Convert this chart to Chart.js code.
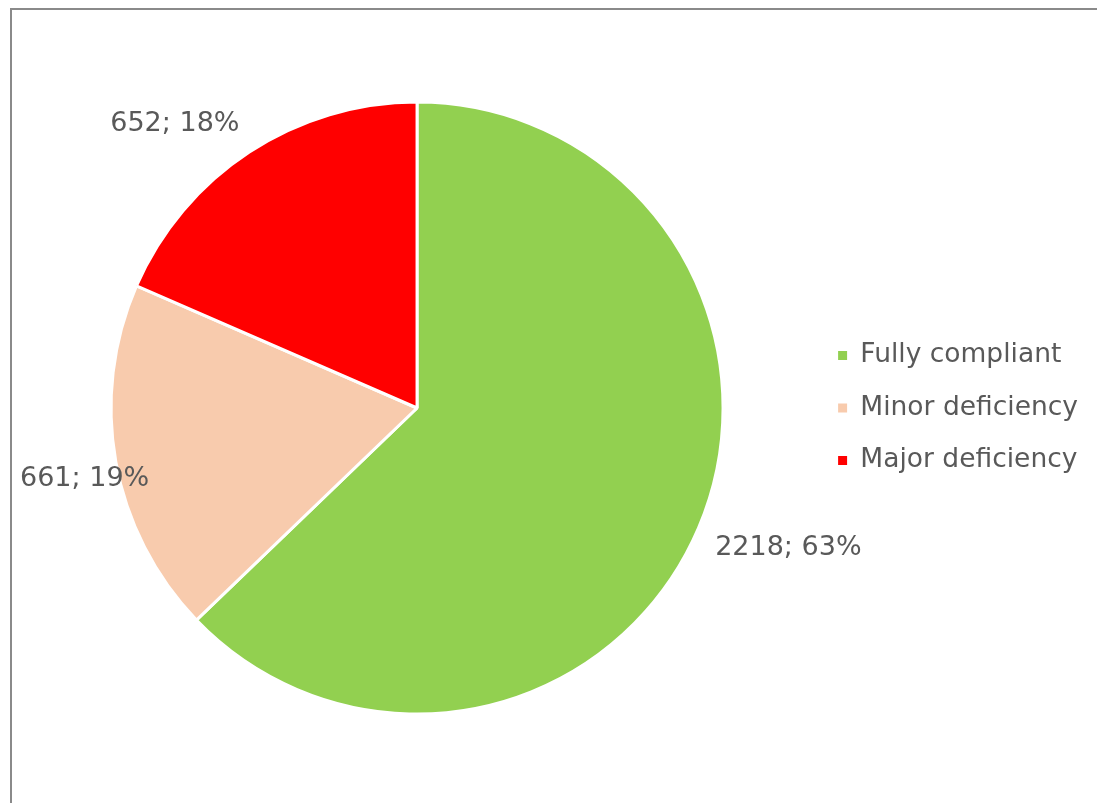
<!DOCTYPE html>
<html>
<head>
<meta charset="utf-8">
<script src="https://cdn.jsdelivr.net/npm/chart.js@4/dist/chart.umd.min.js"></script>
<style>
  html, body { margin: 0; padding: 0; background: #fff; overflow: hidden; }
  #wrap { position: relative; width: 1097px; height: 803px; }
  #frame { position: absolute; left: 10px; top: 8px; width: 1100px; height: 810px;
           border-left: 2px solid #8a8a8a; border-top: 2px solid #8a8a8a; pointer-events: none; }
  canvas { position: absolute; left: 0; top: 0; }
</style>
</head>
<body>
<div id="wrap">
  <canvas id="my_chart" width="1097" height="803"></canvas>
  <div id="frame"></div>
</div>
<script>
  'use strict';

  // categories and values
  var categories = ['Fully compliant', 'Minor deficiency', 'Major deficiency'];
  var counts     = [2218, 661, 652];
  var colors     = ['#92D050', '#F8CBAD', '#FF0000'];

  var fontFamily = '"DejaVu Sans", Verdana, sans-serif';
  var textColor  = '#595959';

  // labels like "2218; 63%" outside the slices (corner of the text box next to the arc)
  var outsideLabels = {
    id: 'outsideLabels',
    afterDatasetsDraw: function(chart) {
      var ctx = chart.ctx;
      var meta = chart.getDatasetMeta(0);
      var data = chart.data.datasets[0].data;
      var total = data.reduce(function(a, b) { return a + b; }, 0);
      ctx.save();
      ctx.font = '27px ' + fontFamily;
      ctx.fillStyle = textColor;
      ctx.textAlign = 'center';
      ctx.textBaseline = 'middle';
      meta.data.forEach(function(arc, i) {
        var p = arc.getProps(['x', 'y', 'startAngle', 'endAngle', 'outerRadius'], true);
        var mid = (p.startAngle + p.endAngle) / 2;
        var cx = Math.cos(mid), cy = Math.sin(mid);
        var text = data[i] + '; ' + Math.round(data[i] / total * 100) + '%';
        var w = ctx.measureText(text).width, h = 27;
        var dist = p.outerRadius + 18;
        var x = p.x + cx * dist + Math.sign(cx) * w / 2;
        var y = p.y + cy * dist + Math.sign(cy) * h / 2;
        // keep inside the chart frame
        if (x - w / 2 < 20) x = 20 + w / 2;
        if (x + w / 2 > chart.width - 10) x = chart.width - 10 - w / 2;
        ctx.fillText(text, x, y);
      });
      ctx.restore();
    }
  };

  var config = {
    type: 'pie',
    data: {
      labels: categories,
      datasets: [{
        data: counts,
        backgroundColor: colors,
        borderColor: '#ffffff',
        borderWidth: 3,
        radius: 306
      }]
    },
    options: {
      responsive: false,
      animation: false,
      layout: { padding: { left: 22, right: 9, top: 13, bottom: 0 } },
      plugins: {
        tooltip: { enabled: false },
        legend: {
          position: 'right',
          labels: {
            boxWidth: 9,
            boxHeight: 9,
            padding: 26,
            color: textColor,
            font: { family: fontFamily, size: 26.5 },
            generateLabels: function(chart) {
              var items = Chart.controllers.pie.overrides.plugins.legend.labels.generateLabels(chart);
              items.forEach(function(it) { it.lineWidth = 0; it.strokeStyle = it.fillStyle; });
              return items;
            }
          }
        }
      }
    },
    plugins: [outsideLabels]
  };

  var ctx = document.getElementById('my_chart').getContext('2d');
  var myChart = new Chart(ctx, config);
</script>
</body>
</html>
